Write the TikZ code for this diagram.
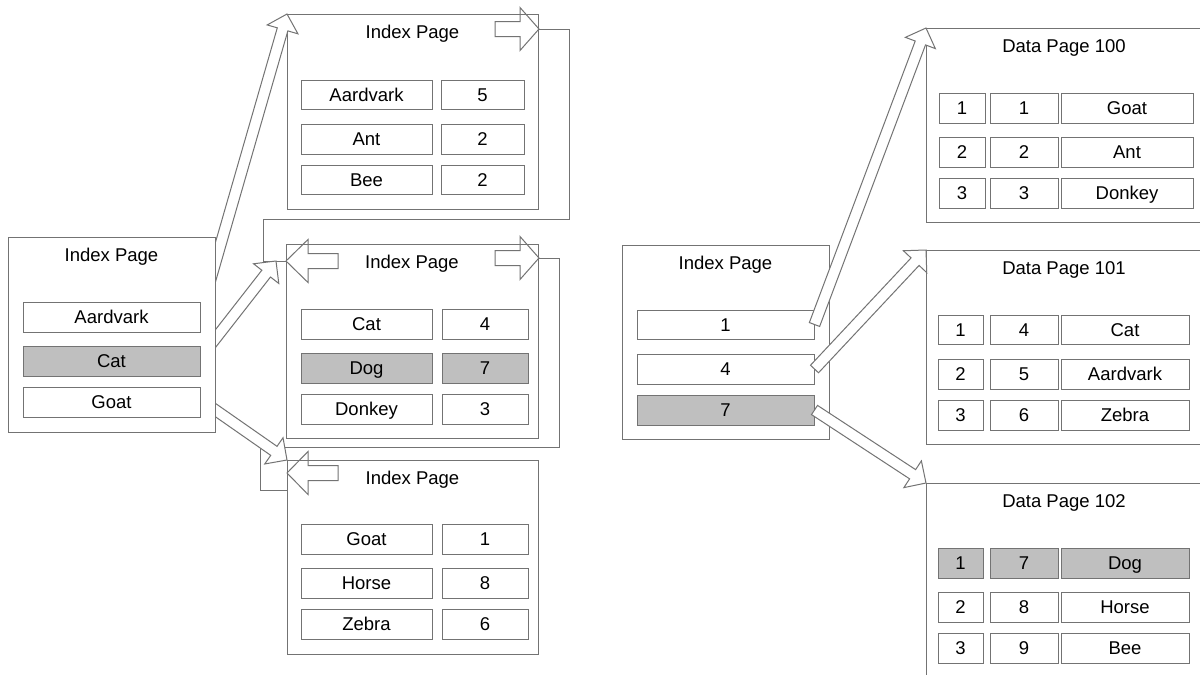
\documentclass[tikz,border=0pt]{standalone}
\usepackage{fontspec}
\setmainfont{Liberation Sans}
\usetikzlibrary{calc}
\newcommand\pg[5]{\node[pagebox, minimum width={(#4-#2)*1pt}, minimum height={(#5-#3)*1pt}] (#1) at (#2,#3) {};}
\newcommand\cel[7][]{\node[cellbox,#1,minimum width={(#5-#3)*1pt},minimum height={(#6-#4)*1pt}] (#2) at ({(#3+#5)/2},{(#4+#6)/2}) {#7};}
% horizontal pointer arrow: tail x, head base x, tip x, centre y
\newcommand\harr[4]{\draw[parrow] (#1,#4-7.5) -- (#2,#4-7.5) -- (#2,#4-21.5) -- (#3,#4) -- (#2,#4+21.5) -- (#2,#4+7.5) -- (#1,#4+7.5) -- cycle;}
% diagonal block arrow from tail #1 to tip #2
\newcommand\blk[2]{%
  \coordinate (hb) at ($(#2)!16pt!(#1)$);
  \draw[barrow] ($(#1)!5.5pt!90:(#2)$) -- ($(hb)!5.5pt!90:(#2)$) -- ($(hb)!16pt!90:(#2)$) -- (#2)
    -- ($(hb)!16pt!-90:(#2)$) -- ($(hb)!5.5pt!-90:(#2)$) -- ($(#1)!5.5pt!-90:(#2)$) -- cycle;}
\begin{document}
\begin{tikzpicture}[x=1pt,y=-1pt, font=\fontsize{18.5pt}{22pt}\selectfont,
  ln/.style={draw=black!55, line width=1pt},
  pagebox/.style={ln, fill=white, rectangle, inner sep=0pt, anchor=north west},
  cellbox/.style={ln, fill=white, rectangle, inner sep=0pt, text height=13.3pt, text depth=0pt},
  grayfill/.style={fill=black!25},
  ttl/.style={anchor=base, inner sep=0pt},
  barrow/.style={ln, fill=white, line join=miter},
  parrow/.style={ln, line join=miter},
  conn/.style={ln}]
\useasboundingbox (0,0) rectangle (1200,675);
\clip (0,0) rectangle (1200,675);
\fill[white] (0,0) rectangle (1200,675);

% ---------- top index page ----------
\pg{T}{287}{14}{538}{209}
\node[ttl] (Tt) at (412.5,38) {Index Page};
\cel{T1a}{301}{80}{432}{109}{Aardvark}  \cel{T1b}{441}{80}{524}{109}{5}
\cel{T2a}{301}{124}{432}{154}{Ant}      \cel{T2b}{441}{124}{524}{154}{2}
\cel{T3a}{301}{165}{432}{194}{Bee}      \cel{T3b}{441}{165}{524}{194}{2}
\harr{495}{520}{539}{29}
\coordinate (Tnext) at (539,29);

% ---------- middle index page ----------
\pg{M}{286}{244}{538}{438}
\node[ttl] (Mt) at (412,268) {Index Page};
\cel{M1a}{301}{309}{432}{339}{Cat}                \cel{M1b}{442}{309}{528}{339}{4}
\cel[grayfill]{M2a}{301}{353}{432}{383}{Dog}      \cel[grayfill]{M2b}{442}{353}{528}{383}{7}
\cel{M3a}{301}{394}{432}{424}{Donkey}             \cel{M3b}{442}{394}{528}{424}{3}
\harr{338}{308}{286}{261}
\harr{495}{520}{539}{258}
\coordinate (Mprev) at (286,261);
\coordinate (Mnext) at (539,258);

% ---------- bottom index page ----------
\pg{B}{287}{460}{538}{654}
\node[ttl] (Bt) at (412.5,484) {Index Page};
\cel{B1a}{301}{524}{432}{554}{Goat}     \cel{B1b}{442}{524}{528}{554}{1}
\cel{B2a}{301}{568}{432}{598}{Horse}    \cel{B2b}{442}{568}{528}{598}{8}
\cel{B3a}{301}{609}{432}{639}{Zebra}    \cel{B3b}{442}{609}{528}{639}{6}
\harr{338}{308}{287}{473}
\coordinate (Bprev) at (287,490);

% ---------- sibling pointers ----------
\draw[conn] (Tnext) -| (569,219) -| (263,261) -- (Mprev);
\draw[conn] (Mnext) -| (559,447) -| (260,490) -- (Bprev);

% ---------- data pages ----------
\pg{D0}{926}{28}{1220}{222}
\node[ttl] (D0t) at (1064,52) {Data Page 100};
\cel{D01a}{939}{93}{985}{123}{1}    \cel{D01b}{990}{93}{1058}{123}{1}    \cel{D01c}{1061}{93}{1193}{123}{Goat}
\cel{D02a}{939}{137}{985}{167}{2}   \cel{D02b}{990}{137}{1058}{167}{2}   \cel{D02c}{1061}{137}{1193}{167}{Ant}
\cel{D03a}{939}{178}{985}{208}{3}   \cel{D03b}{990}{178}{1058}{208}{3}   \cel{D03c}{1061}{178}{1193}{208}{Donkey}

\pg{D1}{926}{250}{1220}{444}
\node[ttl] (D1t) at (1064,274) {Data Page 101};
\cel{D11a}{938}{315}{983}{344}{1}   \cel{D11b}{990}{315}{1058}{344}{4}   \cel{D11c}{1061}{315}{1189}{344}{Cat}
\cel{D12a}{938}{359}{983}{389}{2}   \cel{D12b}{990}{359}{1058}{389}{5}   \cel{D12c}{1061}{359}{1189}{389}{Aardvark}
\cel{D13a}{938}{400}{983}{430}{3}   \cel{D13b}{990}{400}{1058}{430}{6}   \cel{D13c}{1061}{400}{1189}{430}{Zebra}

\pg{D2}{926}{483}{1220}{700}
\node[ttl] (D2t) at (1064,507) {Data Page 102};
\cel[grayfill]{D21a}{938}{548}{983}{578}{1}   \cel[grayfill]{D21b}{990}{548}{1058}{578}{7}   \cel[grayfill]{D21c}{1061}{548}{1189}{578}{Dog}
\cel{D22a}{938}{592}{983}{622}{2}   \cel{D22b}{990}{592}{1058}{622}{8}   \cel{D22c}{1061}{592}{1189}{622}{Horse}
\cel{D23a}{938}{633}{983}{663}{3}   \cel{D23b}{990}{633}{1058}{663}{9}   \cel{D23c}{1061}{633}{1189}{663}{Bee}

% ---------- right index page ----------
\pg{R}{622}{245}{829}{439}
\node[ttl] (Rt) at (725.5,269) {Index Page};
\cel{R1}{637}{310}{814}{339}{1}
\cel{R2}{637}{354}{814}{384}{4}
\cel[grayfill]{R3}{637}{395}{814}{425}{7}

% ---------- block arrows ----------
\coordinate (a1) at (208,288);
\coordinate (a2) at (205,352);
\coordinate (a2tip) at (276,261);
\coordinate (a3) at (201,400);
\blk{a1}{T.north west}
\blk{a2}{a2tip}
\blk{a3}{B.north west}
\blk{R1.east}{D0.north west}
\blk{R2.east}{D1.north west}
\blk{R3.east}{D2.north west}

% ---------- left index page ----------
\pg{L}{8}{237}{215}{432}
\node[ttl] (Lt) at (111.5,261) {Index Page};
\cel{L1}{23}{302}{200}{332}{Aardvark}
\cel[grayfill]{L2}{23}{346}{200}{376}{Cat}
\cel{L3}{23}{387}{200}{417}{Goat}
\end{tikzpicture}
\end{document}
